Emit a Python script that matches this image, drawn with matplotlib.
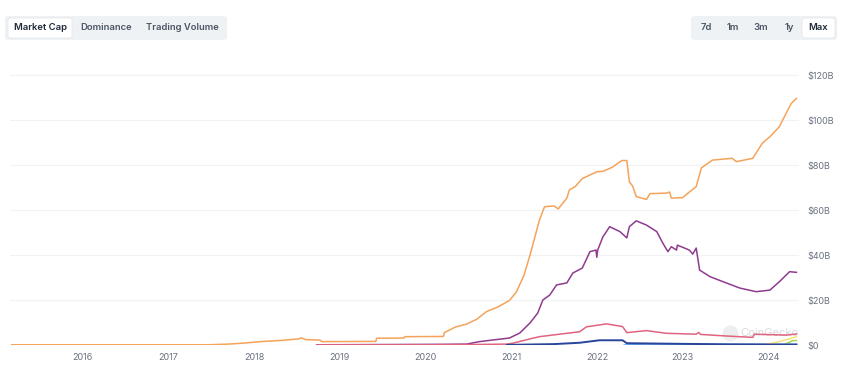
import matplotlib
matplotlib.use("Agg")
import matplotlib.pyplot as plt
from matplotlib.patches import FancyBboxPatch

# ---- data (decimal year, market cap in $B) ----
orange_x = [2015.17, 2017.46, 2017.7, 2017.9, 2018.07, 2018.3, 2018.52, 2018.55, 2018.6, 2018.77,
            2018.79, 2019.42, 2019.43, 2019.75, 2019.76, 2020.21, 2020.22, 2020.35, 2020.48, 2020.6,
            2020.71, 2020.85, 2020.98, 2021.06, 2021.15, 2021.22, 2021.33, 2021.39, 2021.5, 2021.55,
            2021.57, 2021.65, 2021.68, 2021.75, 2021.83, 2022.0, 2022.07, 2022.18, 2022.29, 2022.35,
            2022.38, 2022.42, 2022.46, 2022.58, 2022.62, 2022.81, 2022.85, 2022.87, 2023.0, 2023.08,
            2023.16, 2023.22, 2023.35, 2023.58, 2023.63, 2023.82, 2023.93, 2024.02, 2024.13, 2024.21,
            2024.27, 2024.33]
orange_v = [0.1, 0.1, 0.4, 0.9, 1.5, 2.0, 2.7, 3.2, 2.4, 2.2,
            1.5, 1.6, 3.0, 3.1, 3.7, 3.8, 5.5, 8.0, 9.3, 11.5,
            14.8, 17.0, 19.8, 23.5, 31.0, 40.0, 55.5, 61.5, 61.8, 60.5,
            61.5, 65.3, 69.0, 70.5, 74.0, 77.0, 77.2, 79.0, 82.0, 82.0,
            72.6, 70.5, 66.0, 64.7, 67.3, 67.5, 68.0, 65.3, 65.5, 68.0,
            70.4, 78.7, 82.2, 83.0, 81.5, 83.0, 89.6, 92.6, 97.0, 103.0,
            107.4, 109.6]

purple_x = [2018.73, 2019.5, 2020.2, 2020.48, 2020.63, 2020.78, 2020.98, 2021.1, 2021.22, 2021.31,
            2021.37, 2021.45, 2021.53, 2021.65, 2021.72, 2021.83, 2021.92, 2021.99, 2022.0, 2022.01,
            2022.07, 2022.15, 2022.27, 2022.35, 2022.38, 2022.46, 2022.58, 2022.7, 2022.77, 2022.83,
            2022.87, 2022.93, 2022.94, 2023.08, 2023.12, 2023.16, 2023.2, 2023.32, 2023.51, 2023.67,
            2023.86, 2024.02, 2024.13, 2024.25, 2024.33]
purple_v = [0.1, 0.2, 0.3, 0.4, 1.5, 2.2, 3.1, 5.3, 9.8, 14.2,
            20.0, 22.2, 26.7, 27.6, 32.0, 34.2, 41.5, 42.2, 39.0, 42.2,
            48.0, 52.6, 50.4, 47.6, 52.6, 55.2, 53.3, 50.4, 45.3, 41.5,
            43.7, 42.2, 44.4, 42.2, 40.4, 43.1, 33.3, 30.4, 27.6, 25.3,
            23.7, 24.4, 28.1, 32.6, 32.3]

pink_x = [2018.73, 2020.0, 2020.52, 2020.95, 2021.02, 2021.25, 2021.33, 2021.65, 2021.8, 2021.88,
          2022.03, 2022.11, 2022.3, 2022.35, 2022.58, 2022.81, 2023.16, 2023.19, 2023.21, 2023.51,
          2023.82, 2023.84, 2024.21, 2024.33]
pink_v = [0.05, 0.1, 0.2, 0.4, 0.8, 3.0, 3.7, 5.2, 5.9, 8.1,
          8.9, 9.4, 8.2, 5.5, 6.4, 5.2, 4.8, 5.6, 4.7, 4.0,
          3.4, 4.8, 4.4, 4.9]

navy_x = [2020.95, 2021.5, 2021.8, 2022.03, 2022.3, 2022.35, 2022.8, 2023.5, 2024.33]
navy_v = [0.05, 0.4, 1.0, 2.1, 2.1, 0.8, 0.6, 0.3, 0.2]

lightblue_x = [2022.32, 2022.55, 2023.5, 2024.33]
lightblue_v = [0.0, 0.4, 0.3, 0.3]

yellow_x = [2023.93, 2024.1, 2024.25, 2024.33]
yellow_v = [0.0, 1.2, 2.8, 3.7]

green_x = [2024.21, 2024.25, 2024.28, 2024.33]
green_v = [0.7, 1.2, 1.9, 2.0]

y_ticks = [0, 20, 40, 60, 80, 100, 120]
y_labels = ["$0", "$20B", "$40B", "$60B", "$80B", "$100B", "$120B"]
x_ticks = [2016, 2017, 2018, 2019, 2020, 2021, 2022, 2023, 2024]

left_tabs = ["Market Cap", "Dominance", "Trading Volume"]
right_tabs = ["7d", "1m", "3m", "1y", "Max"]

W, H = 850, 374
fig = plt.figure(figsize=(W / 100, H / 100), dpi=100)
fig.patch.set_facecolor("white")
plt.rcParams["font.family"] = ["Inter", "DejaVu Sans"]

ax = fig.add_axes([10 / W, (H - 345) / H, 789 / W, 285 / H])
ax.set_xlim(2015.15, 2024.36)
ax.set_ylim(0, 126.7)

series = [
    (orange_x, orange_v, "#f5a35a", 1.1),
    (purple_x, purple_v, "#8e3b8f", 1.1),
    (pink_x, pink_v, "#e0647f", 1.1),
    (lightblue_x, lightblue_v, "#6aa8f0", 1.1),
    (yellow_x, yellow_v, "#f6e27c", 1.1),
    (green_x, green_v, "#a6d84e", 1.1),
    (navy_x, navy_v, "#27459a", 1.4),
]
for xs, vs, c, lw in series:
    ax.plot(xs, vs, color=c, lw=lw, solid_joinstyle="round")

ax.yaxis.tick_right()
ax.set_yticks(y_ticks)
ax.set_yticklabels(y_labels)
ax.set_xticks(x_ticks)
ax.set_xticklabels([str(t) for t in x_ticks])
ax.tick_params(axis="both", length=0, labelsize=6.5, labelcolor="#6b7280")
ax.tick_params(axis="y", pad=6)
ax.tick_params(axis="x", pad=6)
ax.grid(axis="y", color="#f1f2f4", lw=0.8)
ax.set_axisbelow(True)
for s in ax.spines.values():
    s.set_visible(False)
ax.axhline(0, color="#e8eaed", lw=0.8, zorder=0)

# faint watermark
ax.scatter([2023.55], [5.5], s=110, color="#eceef0", zorder=0)
ax.text(2023.68, 5.5, "CoinGecko", fontsize=8, color="#d8dadd", va="center", zorder=0)


def tab_group(x0, x1, items, centers, sel_box):
    y0, y1 = H - 40, H - 16
    fig.patches.append(FancyBboxPatch((x0 / W, y0 / H), (x1 - x0) / W, (y1 - y0) / H,
                                      boxstyle="round,pad=0,rounding_size=0.006",
                                      transform=fig.transFigure, fc="#eff2f5", ec="none"))
    sx0, sx1 = sel_box
    fig.patches.append(FancyBboxPatch((sx0 / W, (H - 38) / H), (sx1 - sx0) / W, 20 / H,
                                      boxstyle="round,pad=0,rounding_size=0.005",
                                      transform=fig.transFigure, fc="white", ec="#e3e5e8", lw=0.5))
    for label, cx in zip(items, centers):
        selected = sx0 < cx < sx1
        fig.text(cx / W, (H - 28) / H, label, ha="center", va="center", fontsize=6.8,
                 fontweight="semibold", color="#1f2937" if selected else "#4b5563")


tab_group(5, 227, left_tabs, [40, 106, 182], (8, 72))
tab_group(691, 837, right_tabs, [706, 733, 761, 789, 818], (802, 835))

fig.savefig("out.png", dpi=100)
